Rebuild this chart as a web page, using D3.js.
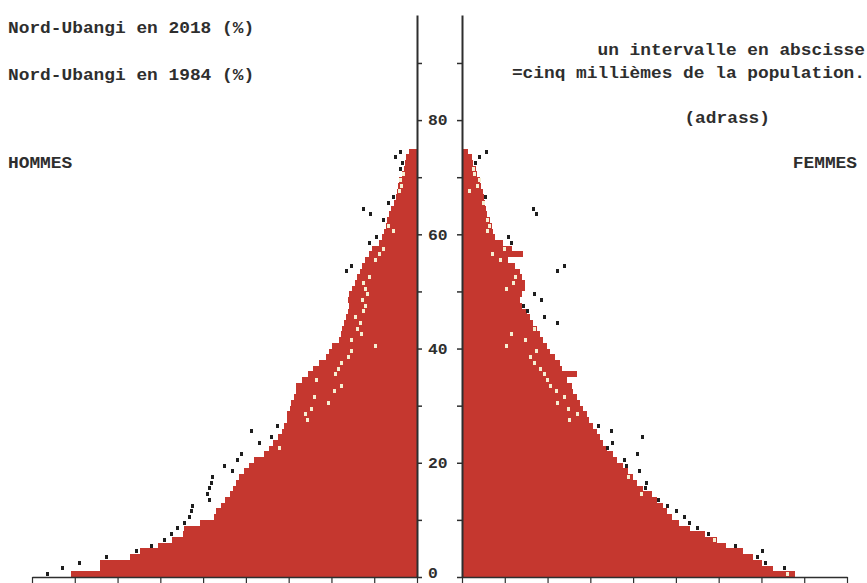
<!DOCTYPE html>
<html>
<head>
<meta charset="utf-8">
<script src="https://cdn.jsdelivr.net/npm/d3@7"></script>
<style>
  html, body { margin: 0; padding: 0; background: #fff; }
  svg { display: block; }
  text { font-family: "Liberation Mono", "DejaVu Sans Mono", monospace; fill: #2e2e2e; }
</style>
</head>
<body>
<svg id="chart" width="867" height="583"></svg>
<script>
// Single-year age groups shown on the pyramid
const ages = [
  0, 1, 2, 3, 4, 5, 6, 7, 8, 9,
  10, 11, 12, 13, 14, 15, 16, 17, 18, 19,
  20, 21, 22, 23, 24, 25, 26, 27, 28, 29,
  30, 31, 32, 33, 34, 35, 36, 37, 38, 39,
  40, 41, 42, 43, 44, 45, 46, 47, 48, 49,
  50, 51, 52, 53, 54, 55, 56, 57, 58, 59,
  60, 61, 62, 63, 64, 65, 66, 67, 68, 69,
  70, 71, 72, 73, 74
];

// Nord-Ubangi 2018, share of population by age (%)
const hommes2018 = [
  4.04, 3.71, 3.71, 3.36, 3.24, 3.03, 2.86, 2.74, 2.72, 2.54,
  2.37, 2.35, 2.29, 2.25, 2.18, 2.15, 2.11, 2.08, 2.02, 1.96,
  1.90, 1.79, 1.73, 1.68, 1.63, 1.58, 1.55, 1.52, 1.52, 1.49,
  1.47, 1.44, 1.42, 1.41, 1.34, 1.27, 1.21, 1.14, 1.06, 1.03,
  0.99, 0.91, 0.89, 0.88, 0.85, 0.83, 0.81, 0.79, 0.81, 0.79,
  0.76, 0.72, 0.70, 0.67, 0.64, 0.61, 0.56, 0.53, 0.44, 0.41,
  0.39, 0.36, 0.35, 0.33, 0.30, 0.27, 0.25, 0.23, 0.22, 0.21,
  0.18, 0.15, 0.14, 0.13, 0.09
];
const femmes2018 = [
  3.89, 3.63, 3.51, 3.40, 3.28, 3.08, 2.98, 2.84, 2.66, 2.54,
  2.46, 2.40, 2.35, 2.28, 2.22, 2.11, 2.04, 2.00, 1.94, 1.88,
  1.81, 1.76, 1.69, 1.65, 1.61, 1.58, 1.53, 1.49, 1.46, 1.41,
  1.38, 1.34, 1.30, 1.28, 1.23, 1.34, 1.17, 1.14, 1.09, 1.03,
  0.99, 0.95, 0.91, 0.88, 0.83, 0.79, 0.76, 0.70, 0.68, 0.70,
  0.74, 0.74, 0.70, 0.68, 0.62, 0.54, 0.71, 0.58, 0.48, 0.39,
  0.36, 0.35, 0.33, 0.29, 0.28, 0.27, 0.26, 0.25, 0.22, 0.21,
  0.18, 0.16, 0.13, 0.12, 0.07
];

// Nord-Ubangi 1984, share of population by age (%)
const hommes1984 = [
  4.32, 4.14, 3.95, 3.63, 3.28, 3.10, 2.95, 2.87, 2.80, 2.72,
  2.66, 2.64, 2.62, 2.43, 2.45, 2.43, 2.40, 2.39, 2.16, 2.25,
  2.10, 2.05, 1.61, 1.84, 1.70, 1.93, 1.63, 1.28, 1.30, 1.23,
  1.03, 1.20, 0.97, 0.88, 1.18, 0.95, 0.92, 0.88, 0.80, 0.76,
  0.48, 0.76, 0.65, 0.70, 0.66, 0.72, 0.62, 0.60, 0.64, 0.58,
  0.60, 0.62, 0.56, 0.82, 0.76, 0.48, 0.44, 0.39, 0.56, 0.47,
  0.27, 0.33, 0.39, 0.54, 0.62, 0.33, 0.28, 0.21, 0.18, 0.19,
  0.16, 0.19, 0.17, 0.25, 0.19
];
const femmes1984 = [
  3.80, 3.77, 3.55, 3.45, 3.51, 3.20, 2.95, 2.88, 2.75, 2.66,
  2.60, 2.51, 2.40, 2.30, 2.10, 2.15, 2.16, 1.95, 2.08, 1.92,
  1.90, 2.05, 1.70, 1.76, 2.11, 1.75, 1.59, 1.26, 1.35, 1.24,
  1.12, 1.20, 1.10, 1.03, 1.00, 0.97, 0.92, 0.85, 0.80, 0.87,
  0.52, 0.74, 0.58, 0.85, 1.12, 0.97, 0.77, 0.72, 0.93, 0.85,
  0.52, 0.60, 0.62, 1.12, 1.20, 0.45, 0.36, 0.50, 0.58, 0.54,
  0.30, 0.32, 0.30, 0.87, 0.83, 0.25, 0.28, 0.09, 0.18, 0.20,
  0.15, 0.14, 0.16, 0.21, 0.29
];

// Axis ticks
const ageTicks = [0, 10, 20, 30, 40, 50, 60, 70, 80, 90];
const ageTickLabels = [0, 20, 40, 60, 80];
const pctTicks = [0, 0.5, 1, 1.5, 2, 2.5, 3, 3.5, 4, 4.5];

const svg = d3.select("#chart");
const RED = "#c5372f";
const INK = "#2e2e2e";
const CHAR_W = 10.7;

// Scales: age upward, population share outward from each central axis
const y = d3.scaleLinear().domain([0, 98.4]).range([577, 15]);
const xL = d3.scaleLinear().domain([0, 4.5]).range([417, 32]);
const xR = d3.scaleLinear().domain([0, 4.5]).range([462, 847]);

// 2018 bars
const bars = svg.append("g").attr("shape-rendering", "crispEdges");
bars.selectAll("rect.h").data(ages).join("rect")
  .attr("class", "h")
  .attr("x", a => xL(hommes2018[a]))
  .attr("y", a => y(a + 1))
  .attr("width", a => xL(0) - xL(hommes2018[a]))
  .attr("height", a => y(a) - y(a + 1))
  .attr("fill", RED);
bars.selectAll("rect.f").data(ages).join("rect")
  .attr("class", "f")
  .attr("x", xR(0))
  .attr("y", a => y(a + 1))
  .attr("width", a => xR(femmes2018[a]) - xR(0))
  .attr("height", a => y(a) - y(a + 1))
  .attr("fill", RED);

// 1984 markers: dark over the background, pale where they fall inside a 2018 bar
const marks = svg.append("g").attr("shape-rendering", "crispEdges");
marks.selectAll("rect.h").data(ages).join("rect")
  .attr("class", "h")
  .attr("x", a => xL(hommes1984[a]) - 1.5)
  .attr("y", a => y(a + 0.5) - 2)
  .attr("width", 3).attr("height", 4)
  .attr("fill", a => hommes1984[a] > hommes2018[a] ? "#1e1e1e" : "#f6efd2");
marks.selectAll("rect.f").data(ages).join("rect")
  .attr("class", "f")
  .attr("x", a => xR(femmes1984[a]) - 1.5)
  .attr("y", a => y(a + 0.5) - 2)
  .attr("width", 3).attr("height", 4)
  .attr("fill", a => femmes1984[a] > femmes2018[a] ? "#1e1e1e" : "#f6efd2");

// Central age axes
const axL = svg.append("g").attr("transform", "translate(417,0)")
  .call(d3.axisRight(y).tickValues(ageTicks).tickSize(5).tickSizeOuter(0)
    .tickPadding(6).tickFormat(d => ageTickLabels.includes(d) ? d : ""));
const axR = svg.append("g").attr("transform", "translate(462,0)")
  .call(d3.axisLeft(y).tickValues(ageTicks).tickSize(5).tickSizeOuter(0).tickFormat(""));
[axL, axR].forEach(g => {
  g.select(".domain").attr("stroke", INK).attr("stroke-width", 2);
  g.selectAll(".tick line").attr("stroke", INK).attr("stroke-width", 1.5);
});
axL.selectAll(".tick text")
  .attr("font-size", 15)
  .attr("font-weight", "bold")
  .attr("font-family", "Liberation Mono, DejaVu Sans Mono, monospace")
  .attr("fill", INK)
  .attr("textLength", function () { return this.textContent.length * 9.8; })
  .attr("lengthAdjust", "spacingAndGlyphs");
// keep the baseline label inside the frame
axL.selectAll(".tick text").filter(d => d === 0).attr("dy", "0.05em");

// Horizontal share axes
[xL, xR].forEach(sc => {
  const g = svg.append("g").attr("transform", "translate(0,577)")
    .call(d3.axisBottom(sc).tickValues(pctTicks).tickSize(6).tickSizeOuter(0).tickFormat(""));
  g.select(".domain").attr("stroke", INK).attr("stroke-width", 1.5);
  g.selectAll(".tick line").attr("stroke", INK).attr("stroke-width", 1.2);
});

// Titles and notes
const notes = [
  { t: "Nord-Ubangi en 2018 (%)", x: 8, y: 33, anchor: "start" },
  { t: "Nord-Ubangi en 1984 (%)", x: 8, y: 80, anchor: "start" },
  { t: "un intervalle en abscisse", x: 865, y: 55, anchor: "end" },
  { t: "=cinq millièmes de la population.", x: 865, y: 78, anchor: "end" },
  { t: "(adrass)", x: 770, y: 123, anchor: "end" },
  { t: "HOMMES", x: 8, y: 168, anchor: "start" },
  { t: "FEMMES", x: 857, y: 168, anchor: "end" }
];
svg.append("g").selectAll("text").data(notes).join("text")
  .attr("x", d => d.x).attr("y", d => d.y)
  .attr("text-anchor", d => d.anchor)
  .attr("font-size", 16)
  .attr("font-weight", "bold")
  .attr("textLength", d => d.t.length * CHAR_W)
  .attr("lengthAdjust", "spacingAndGlyphs")
  .text(d => d.t);
</script>
</body>
</html>
